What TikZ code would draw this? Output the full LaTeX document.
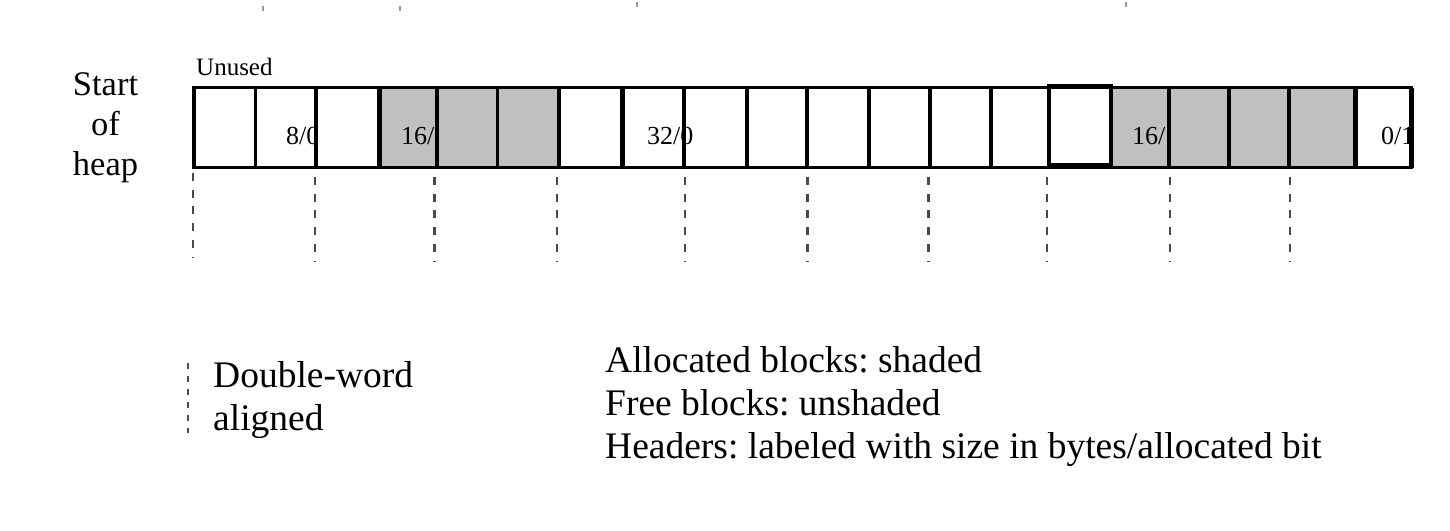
\documentclass[tikz,border=0pt]{standalone}
\usepackage{fontspec}
\setmainfont{Liberation Serif}
\frenchspacing
\definecolor{shade}{HTML}{C0C0C0}
\definecolor{dashgray}{HTML}{4A4A4A}
\begin{document}
\begin{tikzpicture}[x=1pt,y=-1pt,
  cellfill/.style={inner sep=0pt, outer sep=0pt, minimum height=80pt, draw=none},
  cellline/.style={line width=3.3pt, line cap=rect},
  thickline/.style={line width=5pt},
  hdr/.style={inner sep=0pt, anchor=base west, font=\fontsize{26}{30}\selectfont},
  big/.style={inner sep=0pt, font=\fontsize{37.5}{43}\selectfont},
  side/.style={inner sep=0pt, anchor=base, font=\fontsize{34.5}{40}\selectfont},
  aligndash/.style={draw=dashgray, line width=2.5pt, dash pattern=on 8pt off 8.7pt},
  legenddash/.style={draw=dashgray, line width=2.3pt, dash pattern=on 6pt off 7pt},
  speck/.style={draw=black!40, line width=1.5pt}]
\useasboundingbox (0,0) rectangle (1450,530);

% cells (fills)
\foreach \i/\l/\r/\f in {1/194/255.5/white, 2/255.5/316/white, 3/316/379/white,
  4/379/437/shade, 5/437/497.5/shade, 6/497.5/559/shade, 7/559/622.5/white,
  8/622.5/684/white, 9/684/747/white, 10/747/807/white, 11/807/869/white,
  12/869/930/white, 13/930/991/white, 14/991/1049/white, 15/1049/1110.5/white,
  16/1110.5/1169/shade, 17/1169/1229/shade, 18/1229/1289/shade,
  19/1289/1355.5/shade, 20/1355.5/1411.5/white}{
  \pgfmathsetmacro\w{\r-\l}
  \pgfmathsetmacro\cx{(\l+\r)/2}
  \node[cellfill, fill=\f, minimum width=\w pt] (c\i) at (\cx,127.5) {};
}

% header labels
\begin{scope}
  \clip (255.5,87) rectangle (316,167);
  \node[hdr] (h1) at (286,144) {8/0};
\end{scope}
\node[hdr] (h2) at (401,144) {16/};
\node[hdr] (h3) at (647,144) {32/0};
\node[hdr] (h4) at (1132,144) {16/};
\begin{scope}
  \clip (1355.5,87) rectangle (1413,167);
  \node[hdr] (h5) at (1381,144) {0/1};
\end{scope}

% cell borders
\foreach \i in {1,...,20}{
  \draw[cellline] (c\i.north west) rectangle (c\i.south east);
}
% thick separators
\foreach \i in {4,8,20}{
  \draw[thickline] (c\i.north west) -- (c\i.south west);
}
\draw[thickline] (c20.north east) -- (c20.south east);
% highlighted free block
\draw[line width=4pt] (1049,86) rectangle (1110.5,165);

% labels
\node[inner sep=0pt, anchor=base west, font=\fontsize{25}{30}\selectfont] (unused) at (196,75) {Unused};
\node[side] (s1) at (105.5,95) {Start};
\node[side] (s2) at (105.5,135) {of};
\node[side] (s3) at (105.5,175) {heap};

% double-word alignment marks
\foreach \k/\x/\a/\b in {1/193/173/258, 2/315/177/261, 3/434.5/177/261, 4/557/177/261,
  5/685/177/261, 6/807.5/177/261, 7/928.5/177/261, 8/1047/177/261, 9/1170/177/261, 10/1290/177/261}{
  \coordinate (ta\k) at (\x,\a);
  \coordinate (tb\k) at (\x,\b);
  \draw[aligndash] (ta\k) -- (tb\k);
}

% specks at top
\foreach \x/\a in {263/6, 400/6, 637/2, 1126/2}{
  \draw[speck] (\x,\a) -- (\x,{\a+5});
}

% legend
\coordinate (la) at (188,363);
\coordinate (lb) at (188,433);
\draw[legenddash] (la) -- (lb);
\node[big, anchor=base west] (dw1) at (213,387) {Double-word};
\node[big, anchor=base west] (dw2) at (213,430) {aligned};

\node[big, anchor=base west] (t1) at (605,372) {Allocated blocks: shaded};
\node[big, anchor=base west] (t2) at (605,415) {Free blocks: unshaded};
\node[big, anchor=base west] (t3) at (605,458) {Headers: labeled with size in bytes/allocated bit};
\end{tikzpicture}
\end{document}
